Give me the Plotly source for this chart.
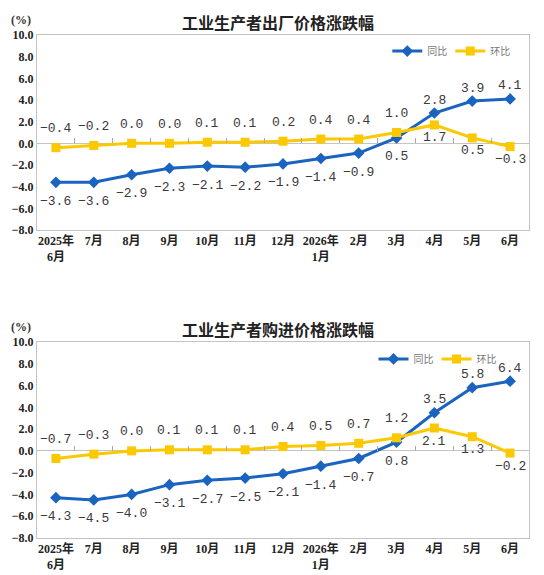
import plotly.graph_objects as go

months = ['2025年<br>6月', '7月', '8月', '9月', '10月', '11月', '12月',
          '2026年<br>1月', '2月', '3月', '4月', '5月', '6月']

ppi_yoy = [-3.6, -3.6, -2.9, -2.3, -2.1, -2.2, -1.9, -1.4, -0.9, 0.5, 2.8, 3.9, 4.1]
ppi_mom = [-0.4, -0.2, 0.0, 0.0, 0.1, 0.1, 0.2, 0.4, 0.4, 1.0, 1.7, 0.5, -0.3]

pur_yoy = [-4.3, -4.5, -4.0, -3.1, -2.7, -2.5, -2.1, -1.4, -0.7, 0.8, 3.5, 5.8, 6.4]
pur_mom = [-0.7, -0.3, 0.0, 0.1, 0.1, 0.1, 0.4, 0.5, 0.7, 1.2, 2.1, 1.3, -0.2]

titles = ['工业生产者出厂价格涨跌幅', '工业生产者购进价格涨跌幅']

BLUE = '#1a64c0'
YELLOW = '#fcc800'
GRID = '#c4c4c4'

# pixel layout -> paper fractions (plot area spans y 35..538)
dom_top = [0.6123, 1.0]
dom_bot = [0.0, 0.3897]
y_lo, y_hi = -8, 10

fig = go.Figure()

panels = [
    (ppi_yoy, ppi_mom, 'x', 'y', 'legend', dom_top),
    (pur_yoy, pur_mom, 'x2', 'y2', 'legend2', dom_bot),
]

annos = []
for k, (yoy, mom, xa, ya, lg, dom) in enumerate(panels):
    fig.add_trace(go.Scatter(
        x=months, y=yoy, name='同比', mode='lines+markers',
        line=dict(color=BLUE, width=3),
        marker=dict(symbol='diamond', size=9, color=BLUE),
        xaxis=xa, yaxis=ya, legend=lg, hoverinfo='skip'))
    fig.add_trace(go.Scatter(
        x=months, y=mom, name='环比', mode='lines+markers',
        line=dict(color=YELLOW, width=3),
        marker=dict(symbol='square', size=9, color=YELLOW),
        xaxis=xa, yaxis=ya, legend=lg, hoverinfo='skip'))

    # labels: the lower series gets its label below, the upper one above
    for i, m in enumerate(months):
        a, b = yoy[i], mom[i]
        yoy_up = a > b
        gap = 13 if yoy_up else 19   # labels sit tighter once 同比 climbs above
        for v, up in ((a, yoy_up), (b, not yoy_up)):
            annos.append(dict(
                x=m, y=v, xref=xa, yref=ya, showarrow=False,
                text=f'{v:.1f}'.replace('-', '−'),
                yshift=gap if up else -gap,
                font=dict(family='Liberation Mono, monospace', size=13, color='#3a3a3a')))

    # title and unit
    annos.append(dict(
        x=0.49, y=dom[1], xref='paper', yref='paper', yshift=13, showarrow=False,
        xanchor='center', yanchor='middle', text=f'<b>{titles[k]}</b>',
        font=dict(family='Noto Sans CJK SC', size=16, color='#222222')))
    annos.append(dict(
        x=-0.032, y=dom[1], xref='paper', yref='paper', yshift=15, showarrow=False,
        xanchor='center', yanchor='middle', text='<b>(%)</b>',
        font=dict(family='Liberation Serif', size=12, color='#333333')))

axis_font = dict(family='Liberation Serif, Noto Sans CJK SC', size=12, color='#222222',
                 weight='bold')

xcommon = dict(type='category', showline=True, mirror=True, linecolor=GRID, linewidth=1,
               ticks='', showgrid=False, tickfont=axis_font, range=[-0.5, 12.5],
               tickangle=0, automargin=False)
ycommon = dict(range=[y_lo, y_hi], dtick=2, tickformat='.1f', showline=True, mirror=True,
               linecolor=GRID, linewidth=1, showgrid=False, zeroline=True,
               zerolinecolor=GRID, zerolinewidth=1, tickfont=axis_font, ticks='',
               automargin=False)

# small tick marks standing on the zero line between months
zero_frac = (0 - y_lo) / (y_hi - y_lo)
tickcommon = dict(type='linear', range=[-0.5, 12.5], tickvals=[i + 0.5 for i in range(12)],
                  ticks='inside', ticklen=5, tickcolor='#a8a8a8', tickwidth=1,
                  showticklabels=False, showgrid=False, zeroline=False, showline=False,
                  anchor='free', automargin=False)

fig.add_trace(go.Scatter(x=[0], y=[0], xaxis='x3', yaxis='y', mode='markers',
                         marker=dict(opacity=0), showlegend=False, hoverinfo='skip'))
fig.add_trace(go.Scatter(x=[0], y=[0], xaxis='x4', yaxis='y2', mode='markers',
                         marker=dict(opacity=0), showlegend=False, hoverinfo='skip'))

legend_common = dict(orientation='h', bgcolor='rgba(0,0,0,0)', xanchor='left',
                     yanchor='middle', font=dict(family='Noto Sans CJK SC', size=10, color='#777777'),
                     itemwidth=30, entrywidth=18, entrywidthmode='pixels', tracegroupgap=0)

fig.update_layout(
    width=544, height=575,
    margin=dict(l=37, r=15, t=35, b=37, autoexpand=False),
    paper_bgcolor='white', plot_bgcolor='white',
    showlegend=True,
    xaxis=dict(xcommon, domain=[0, 1], anchor='y'),
    yaxis=dict(ycommon, domain=dom_top, anchor='x'),
    xaxis2=dict(xcommon, domain=[0, 1], anchor='y2'),
    yaxis2=dict(ycommon, domain=dom_bot, anchor='x2'),
    xaxis3=dict(tickcommon, overlaying='x',
                position=dom_top[0] + zero_frac * (dom_top[1] - dom_top[0])),
    xaxis4=dict(tickcommon, overlaying='x2',
                position=dom_bot[0] + zero_frac * (dom_bot[1] - dom_bot[0])),
    legend=dict(legend_common, x=0.712, y=0.968),
    legend2=dict(legend_common, x=0.684, y=0.356),
    annotations=annos,
)

# the page body has a default 8px margin; drop it so the figure sits at the corner
fig.write_html('out.html', config={'displayModeBar': False},
               post_script="document.body.style.margin='0px';")
